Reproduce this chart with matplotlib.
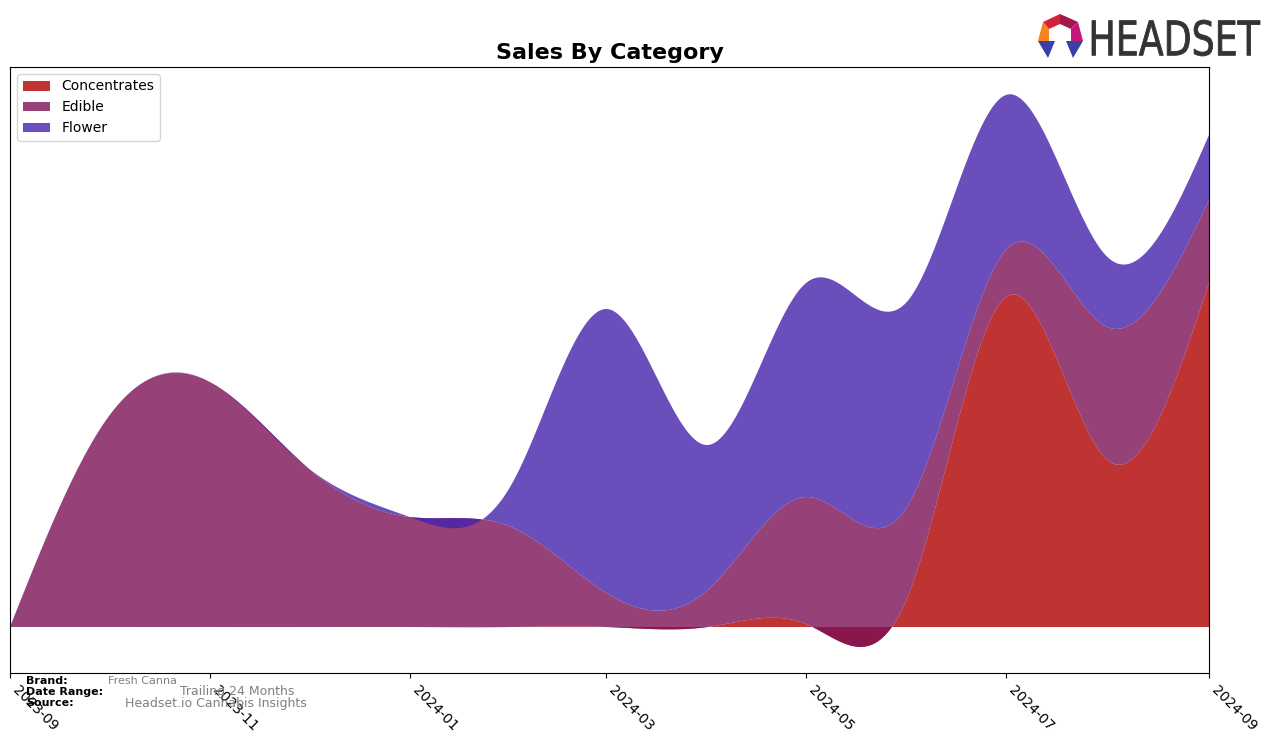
import numpy as np
import pandas as pd
import matplotlib
matplotlib.use('Agg')
import matplotlib.pyplot as plt
import matplotlib.dates as mdates
from matplotlib.textpath import TextPath
from matplotlib.patches import PathPatch, Polygon
from matplotlib.font_manager import FontProperties
from matplotlib.transforms import Affine2D, IdentityTransform

# monthly sales (arbitrary units)
months = pd.date_range('2023-09-01', '2024-09-01', freq='MS')
concentrates = [0, 0, 0, 0, 0, 0, 0, 0, 3, 30, 330, 167, 344]
edible = [0, 210, 245, 159, 110, 100, 34, 37, 127, 91, 47, 133, 83]
flower = [0, 0, 0, 0, 0, 42, 284, 145, 214, 205, 155, 70, 65]

categories = ['Concentrates', 'Edible', 'Flower']
colors = ['#b00000', '#7c1156', '#4522ab']

brand = 'Fresh Canna'
date_range = 'Trailing 24 Months'
source = 'Headset.io Cannabis Insights'


def smooth(x, y, xs):
    """natural cubic spline through (x, y), evaluated at xs (for drawing only)"""
    x = np.asarray(x, float)
    y = np.asarray(y, float)
    n = len(x)
    h = np.diff(x)
    A = np.zeros((n, n))
    b = np.zeros(n)
    A[0, 0] = 1.0
    A[-1, -1] = 1.0
    for i in range(1, n - 1):
        A[i, i - 1] = h[i - 1]
        A[i, i] = 2 * (h[i - 1] + h[i])
        A[i, i + 1] = h[i]
        b[i] = 6 * ((y[i + 1] - y[i]) / h[i] - (y[i] - y[i - 1]) / h[i - 1])
    M = np.linalg.solve(A, b)
    idx = np.clip(np.searchsorted(x, xs) - 1, 0, n - 2)
    x0, x1 = x[idx], x[idx + 1]
    hh = x1 - x0
    return (M[idx] * (x1 - xs) ** 3 / (6 * hh) + M[idx + 1] * (xs - x0) ** 3 / (6 * hh)
            + (y[idx] / hh - M[idx] * hh / 6) * (x1 - xs)
            + (y[idx + 1] / hh - M[idx + 1] * hh / 6) * (xs - x0))


def draw_logo(fig):
    # icon: ring of coloured facets
    facets = [
        ([(1043, 743 - 22), (1060, 743 - 14), (1060, 743 - 24), (1049, 743 - 29)], '#d4213d'),
        ([(1060, 743 - 14), (1078, 743 - 22), (1071, 743 - 29), (1060, 743 - 24)], '#a3174a'),
        ([(1043, 743 - 22), (1049, 743 - 29), (1049, 743 - 41), (1038, 743 - 41)], '#f7821e'),
        ([(1078, 743 - 22), (1083, 743 - 41), (1071, 743 - 41), (1071, 743 - 29)], '#c2187a'),
        ([(1038, 743 - 41), (1055, 743 - 41), (1048, 743 - 58)], '#3b3fa8'),
        ([(1066, 743 - 41), (1083, 743 - 41), (1073, 743 - 58)], '#3b3fa8'),
    ]
    for pts, col in facets:
        fig.patches.append(Polygon(pts, closed=True, facecolor=col, edgecolor='none',
                                   transform=IdentityTransform(), figure=fig))
    tp = TextPath((0, 0), 'HEADSET', size=40,
                  prop=FontProperties(family='DejaVu Sans'))
    bb = tp.get_extents()
    sx = 168 / bb.width
    sy = 36 / bb.height
    tr = Affine2D().translate(-bb.x0, -bb.y0).scale(sx, sy).translate(1092, 743 - 56)
    fig.patches.append(PathPatch(tr.transform_path(tp), facecolor='#333333',
                                 edgecolor='#333333', linewidth=0.6,
                                 transform=IdentityTransform(), figure=fig))


def main():
    fig = plt.figure(figsize=(12.76, 7.43), dpi=100)
    ax = fig.add_axes([10 / 1276, 1 - 673 / 743, 1199 / 1276, 606 / 743])

    xnum = mdates.date2num(months.to_pydatetime())
    xs = np.linspace(xnum[0], xnum[-1], 800)
    layers = [smooth(xnum, s, xs) for s in (concentrates, edible, flower)]
    ax.stackplot(mdates.num2date(xs), *layers, labels=categories,
                 colors=colors, alpha=0.8)

    ax.set_xlim(months[0], months[-1])
    ax.set_ylim(-46, 560)
    ax.set_yticks([])
    ax.xaxis.set_major_locator(mdates.MonthLocator(bymonth=[1, 3, 5, 7, 9, 11]))
    ax.xaxis.set_major_formatter(mdates.DateFormatter('%Y-%m'))
    plt.setp(ax.get_xticklabels(), rotation=-45, ha='left', fontsize=10)
    ax.set_title('Sales By Category', fontsize=16, fontweight='bold')
    ax.legend(loc='upper left', fontsize=10)

    fig.text(26 / 1276, 1 - 681 / 743, 'Brand:', fontsize=8, fontweight='bold', va='center')
    fig.text(108 / 1276, 1 - 681 / 743, brand, fontsize=8, color='gray', va='center')
    fig.text(26 / 1276, 1 - 692 / 743, 'Date Range:', fontsize=8, fontweight='bold', va='center')
    fig.text(180 / 1276, 1 - 692 / 743, date_range, fontsize=9, color='gray', va='center')
    fig.text(26 / 1276, 1 - 703 / 743, 'Source:', fontsize=8, fontweight='bold', va='center')
    fig.text(125 / 1276, 1 - 703 / 743, source, fontsize=9, color='gray', va='center')

    draw_logo(fig)
    fig.savefig('out.png', dpi=100)


if __name__ == '__main__':
    main()
